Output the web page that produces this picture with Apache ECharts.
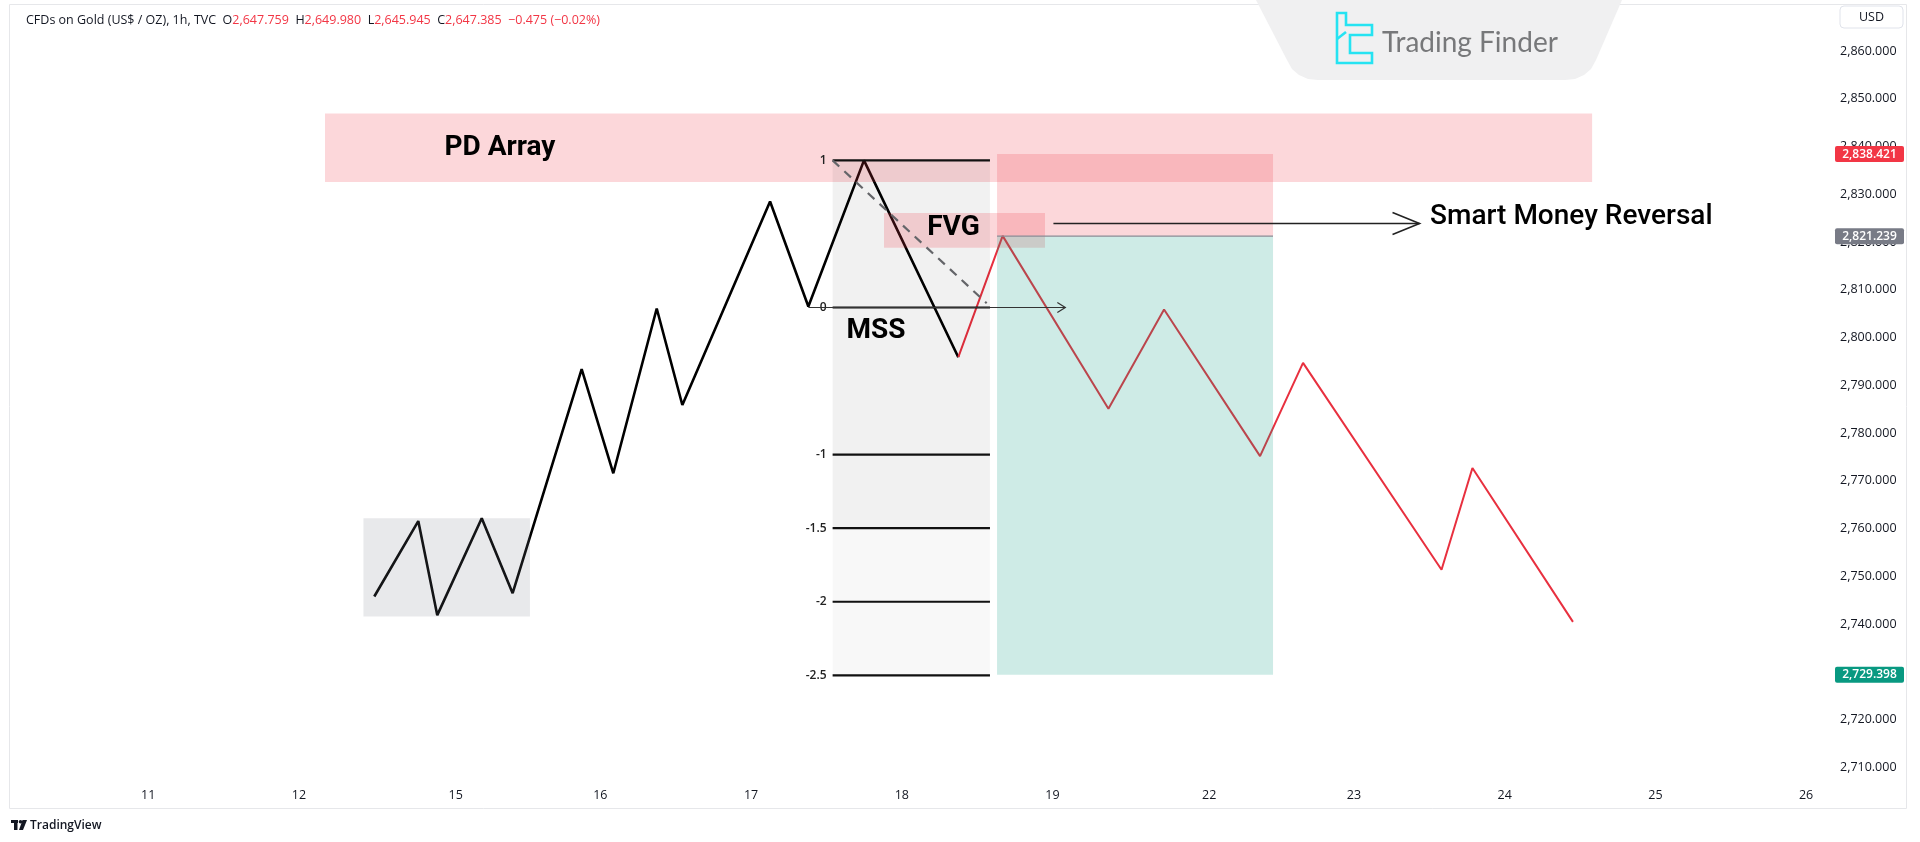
<!DOCTYPE html>
<html><head><meta charset="utf-8">
<script src="https://cdn.jsdelivr.net/npm/echarts@6/dist/echarts.min.js"></script>
<style>html,body{margin:0;padding:0;background:#fff;}#c{width:1920px;height:842px;}</style>
</head><body><div id="c"></div>
<script>
// ---------------- data ----------------
const dayLabels = ['11','12','15','16','17','18','19','22','23','24','25','26'];
const dayPos    = [0, 1, 2.04, 3, 4, 5, 6, 7.04, 8, 9, 10, 11];
const priceTicks = [2710,2720,2730,2740,2750,2760,2770,2780,2790,2800,2810,2820,2830,2840,2850,2860];

// swing path before the reversal (black)
const blackX = [1.500, 1.792, 1.918, 2.213, 2.418, 2.876, 3.086, 3.374, 3.544, 4.126, 4.380, 4.749, 5.375];
const blackP = [2745.8, 2761.6, 2741.9, 2762.2, 2746.5, 2793.4, 2771.6, 2806.1, 2785.9, 2828.5, 2806.5, 2837.1, 2795.9];
// path after the reversal (red)
const redX = [5.375, 5.669, 6.371, 6.740, 7.377, 7.662, 8.581, 8.786, 9.453];
const redP = [2795.9, 2821.3, 2785.1, 2805.9, 2775.2, 2794.7, 2751.4, 2772.7, 2740.5];

// fibonacci tool
const fibLevels = [1, 0, -1, -1.5, -2, -2.5];
const fibHigh = 2837.1, fibLow = 2806.3;
const fibStartX = 4.541, fibEndX = 5.585;
const fibDiagonal = [[4.541, 2837.1], [5.563, 2807.2]];

// zones: [x0, x1, priceTop, priceBottom]
const pdArrayZone = [1.173, 9.580, 2846.9, 2832.6];
const rangeZone   = [1.428, 2.533, 2762.2, 2741.6];
const fvgZone     = [4.882, 5.950, 2826.1, 2818.8];
const stopPrice = 2838.421, entryPrice = 2821.239, targetPrice = 2729.398;
const positionX = [5.632, 7.463];

// arrows: [x0, x1, price]
const mssArrow   = [4.380, 6.085, 2806.3];
const smrArrow   = [6.006, 8.435, 2823.9];

// annotation texts and anchors
const annoText = ['PD Array', 'FVG', 'MSS', 'Smart Money Reversal'];
const annoX    = [2.334, 5.343, 4.829, 8.505];
const annoP    = [2839.7, 2823.0, 2801.4, 2825.3];

const ohlcVals = ['2,647.759', '2,649.980', '2,645.945', '2,647.385', '\u22120.475 (\u22120.02%)'];
const badgePrices = [stopPrice, entryPrice, targetPrice];

// ---------------- chart ----------------
const FONT = 'Open Sans';
const chart = echarts.init(document.getElementById('c'), null, {renderer: 'canvas'});

const xMin = -0.9169, xMax = 11.0987;
const yMin = 2707.39, yMax = 2869.42;

function zoneSeries(name, box, fill, z) {
  return {
    type: 'custom', name, z, silent: true, clip: true,
    encode: {x: [0, 1], y: [2, 3]},
    data: [box],
    renderItem(params, api) {
      const a = api.coord([api.value(0), api.value(2)]);
      const b = api.coord([api.value(1), api.value(3)]);
      return {type: 'rect', shape: {x: a[0], y: a[1], width: b[0] - a[0], height: b[1] - a[1]}, style: {fill}};
    }
  };
}

function arrowSeries(name, arr, color, width, headLen, headHalf) {
  return {
    type: 'custom', name, z: 6, silent: true, clip: false,
    encode: {x: [0, 1], y: [2]},
    data: [arr],
    renderItem(params, api) {
      const a = api.coord([api.value(0), api.value(2)]);
      const b = api.coord([api.value(1), api.value(2)]);
      return {type: 'group', children: [
        {type: 'line', shape: {x1: a[0], y1: a[1], x2: b[0], y2: b[1]}, style: {stroke: color, lineWidth: width}},
        {type: 'polyline', shape: {points: [[b[0] - headLen, b[1] - headHalf], [b[0], b[1]], [b[0] - headLen, b[1] + headHalf]]},
         style: {stroke: color, lineWidth: width, fill: null}}
      ]};
    }
  };
}

const fibRows = fibLevels.map(l => [fibStartX, fibEndX, fibLow + l * (fibHigh - fibLow), l]);
const fibP = l => fibLow + l * (fibHigh - fibLow);

const annoAlign = ['center', 'center', 'center', 'left'];
const annoWeight = ['bold', 'bold', 'bold', 500];
const badgeColors = ['#f23645', '#787b86', '#089981'];

const fmtPrice = v => v.toLocaleString('en-US', {minimumFractionDigits: 3, maximumFractionDigits: 3});

const option = {
  backgroundColor: '#ffffff',
  animation: false,
  title: {
    left: 21, top: 9,
    text: '{n|CFDs on Gold (US$ / OZ), 1h, TVC}  {k|O}{v|' + ohlcVals[0] + '}  {k|H}{v|' + ohlcVals[1] + '}  {k|L}{v|' + ohlcVals[2] + '}  {k|C}{v|' + ohlcVals[3] + '}  {v|' + ohlcVals[4] + '}',
    textStyle: {
      fontFamily: FONT, fontSize: 12.5, fontWeight: 'normal', color: '#131722',
      rich: {
        n: {fontFamily: FONT, fontSize: 12.5, color: '#131722'},
        k: {fontFamily: FONT, fontSize: 12.5, color: '#131722'},
        v: {fontFamily: FONT, fontSize: 12.5, color: '#f23645'}
      }
    }
  },
  grid: {left: 10, right: 99, top: 6, bottom: 62, containLabel: false},
  xAxis: {
    type: 'value', min: xMin, max: xMax,
    axisLine: {show: false}, axisTick: {show: false}, splitLine: {show: false},
    axisLabel: {
      customValues: dayPos, margin: 9,
      formatter: v => { const i = dayPos.findIndex(d => Math.abs(d - v) < 1e-6); return i >= 0 ? dayLabels[i] : ''; },
      fontFamily: FONT, fontSize: 12.5, color: '#131722'
    }
  },
  yAxis: {
    type: 'value', position: 'right', min: yMin, max: yMax, scale: true,
    axisLine: {show: false}, axisTick: {show: false}, splitLine: {show: false},
    axisLabel: {
      customValues: priceTicks, margin: 19, align: 'left',
      formatter: v => fmtPrice(v),
      fontFamily: FONT, fontSize: 12.5, color: '#131722'
    }
  },
  series: [
    {
      type: 'line', name: 'swing', z: 2, silent: true, symbol: 'none',
      data: blackX.map((x, i) => [x, blackP[i]]),
      lineStyle: {color: '#000000', width: 2.6}
    },
    {
      type: 'line', name: 'reversal', z: 2, silent: true, symbol: 'none',
      data: redX.map((x, i) => [x, redP[i]]),
      lineStyle: {color: '#e8303f', width: 2}
    },
    {
      type: 'line', name: 'fibDiag', z: 5, silent: true, symbol: 'none',
      data: fibDiagonal,
      lineStyle: {color: '#646569', width: 2.2, type: [9, 7]}
    },
    zoneSeries('range', rangeZone, 'rgba(120,123,134,0.17)', 3),
    zoneSeries('pdArray', pdArrayZone, 'rgba(242,54,69,0.2)', 3),
    zoneSeries('fibBoxUpper', [fibStartX, fibEndX, fibP(1), fibP(-1.5)], 'rgba(0,0,0,0.055)', 3),
    zoneSeries('fibBoxLower', [fibStartX, fibEndX, fibP(-1.5), fibP(-2.5)], 'rgba(0,0,0,0.028)', 3),
    zoneSeries('fvg', fvgZone, 'rgba(242,54,69,0.2)', 3),
    zoneSeries('stop', [positionX[0], positionX[1], stopPrice, entryPrice], 'rgba(242,54,69,0.2)', 3),
    zoneSeries('target', [positionX[0], positionX[1], entryPrice, targetPrice], 'rgba(8,153,129,0.2)', 3),
    {
      type: 'custom', name: 'entryLine', z: 4, silent: true,
      encode: {x: [0, 1], y: [2]},
      data: [[positionX[0], positionX[1], entryPrice]],
      renderItem(params, api) {
        const a = api.coord([api.value(0), api.value(2)]);
        const b = api.coord([api.value(1), api.value(2)]);
        return {type: 'line', shape: {x1: a[0], y1: a[1], x2: b[0], y2: b[1]}, style: {stroke: '#8a8d96', lineWidth: 1.2}};
      }
    },
    {
      type: 'custom', name: 'fib', z: 5, silent: true, clip: false,
      encode: {x: [0, 1], y: [2]},
      data: fibRows,
      renderItem(params, api) {
        const a = api.coord([api.value(0), api.value(2)]);
        const b = api.coord([api.value(1), api.value(2)]);
        return {type: 'group', children: [
          {type: 'line', shape: {x1: a[0], y1: a[1], x2: b[0], y2: b[1]}, style: {stroke: '#111111', lineWidth: 2.2}},
          {type: 'text', x: a[0] - 6, y: a[1], style: {text: String(api.value(3)), align: 'right', verticalAlign: 'middle',
            fontFamily: FONT, fontSize: 12, fontWeight: 600, fill: '#222'}}
        ]};
      }
    },
    arrowSeries('mssArrow', mssArrow, '#333333', 1.2, 8, 5),
    arrowSeries('smrArrow', smrArrow, '#222222', 1.6, 27, 11),
    {
      type: 'custom', name: 'annotations', z: 10, silent: true, clip: false,
      encode: {x: 0, y: 1},
      data: annoX.map((x, i) => [x, annoP[i]]),
      renderItem(params, api) {
        const c = api.coord([api.value(0), api.value(1)]);
        const i = params.dataIndex;
        return {type: 'text', x: c[0], y: c[1], style: {text: annoText[i], align: annoAlign[i], verticalAlign: 'middle',
          fontFamily: 'Roboto', fontSize: 28, fontWeight: annoWeight[i], fill: '#000000'}};
      }
    },
    {
      type: 'custom', name: 'badges', z: 12, silent: true, clip: false,
      encode: {y: 0},
      data: badgePrices.map(p => [p]),
      renderItem(params, api) {
        const y = api.coord([0, api.value(0)])[1];
        const x0 = params.coordSys.x + params.coordSys.width + 14;
        return {type: 'group', children: [
          {type: 'rect', shape: {x: x0, y: y - 8, width: 69, height: 16, r: 2}, style: {fill: badgeColors[params.dataIndex]}},
          {type: 'text', x: x0 + 34.5, y: y, style: {text: fmtPrice(api.value(0)), align: 'center', verticalAlign: 'middle',
            fontFamily: FONT, fontSize: 12, fontWeight: 600, fill: '#ffffff'}}
        ]};
      }
    }
  ],
  graphic: [
    {type: 'rect', z: 0, silent: true, shape: {x: 9.5, y: 4.5, width: 1897, height: 804}, style: {fill: null, stroke: '#e6e7ea', lineWidth: 1}},
    {type: 'rect', z: 20, silent: true, shape: {x: 1840, y: 6, width: 63, height: 22, r: 4}, style: {fill: '#fff', stroke: '#e0e3eb', lineWidth: 1}},
    {type: 'text', z: 21, silent: true, x: 1871.5, y: 17.5, style: {text: 'USD', align: 'center', verticalAlign: 'middle', fontFamily: FONT, fontSize: 12.5, fill: '#131722'}},
    // Trading Finder watermark
    {type: 'polygon', z: 30, silent: true, shape: {points: [[1256, 0], [1622, 0], [1596, 60], [1591, 69], [1584, 75], [1575, 79], [1565, 80], [1318, 80], [1308, 79], [1299, 75], [1292, 69], [1287, 60]]}, style: {fill: '#f0f0f1'}},
    {type: 'polygon', z: 31, silent: true, shape: {points: [[1337, 13], [1346, 13], [1346, 25], [1372, 25], [1372, 35], [1350, 35], [1350, 53], [1372, 53], [1372, 63], [1337, 63]]}, style: {fill: null, stroke: '#25e3f2', lineWidth: 2.6}},
    {type: 'line', z: 31, silent: true, shape: {x1: 1337, y1: 39, x2: 1346, y2: 32}, style: {stroke: '#25e3f2', lineWidth: 2.6}},
    {type: 'text', z: 31, silent: true, x: 1382, y: 43, style: {text: 'Trading Finder', verticalAlign: 'middle', fontFamily: 'Lato', fontSize: 28, fill: '#77787a'}},
    // TradingView footer
    {type: 'group', z: 30, silent: true, x: 11, y: 820, children: [
      {type: 'rect', shape: {x: 0, y: 0, width: 7, height: 3}, style: {fill: '#131722'}},
      {type: 'rect', shape: {x: 3, y: 0, width: 3.5, height: 10}, style: {fill: '#131722'}},
      {type: 'circle', shape: {cx: 9.5, cy: 1.8, r: 1.8}, style: {fill: '#131722'}},
      {type: 'polygon', shape: {points: [[11.5, 0], [16, 0], [12, 10], [8, 10]]}, style: {fill: '#131722'}},
      {type: 'text', x: 19, y: 5.5, style: {text: 'TradingView', verticalAlign: 'middle', fontFamily: FONT, fontSize: 12, fontWeight: 600, fill: '#131722'}}
    ]}
  ]
};
chart.setOption(option);
</script>
</body></html>
